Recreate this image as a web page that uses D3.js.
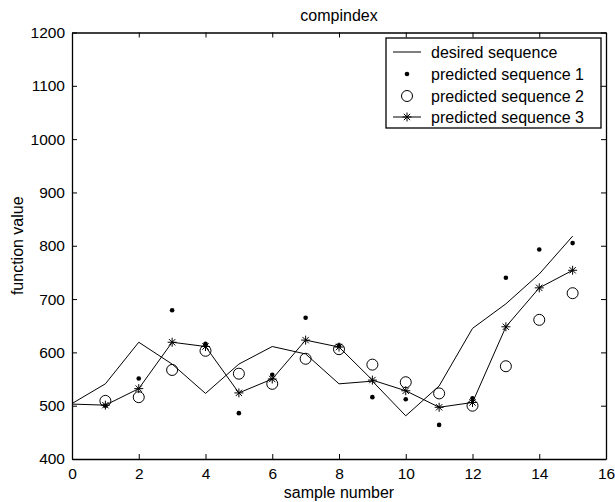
<!DOCTYPE html>
<html>
<head>
<meta charset="utf-8">
<script src="https://cdn.jsdelivr.net/npm/d3@7"></script>
<style>
  body { margin: 0; background: #fff; }
  svg { display: block; }
  text { font-family: "Liberation Sans", Arial, sans-serif; fill: #000; }
</style>
</head>
<body>
<div class="chart"></div>
<script>
// values
var xDesired = [0, 1, 2, 3, 4, 5, 6, 7, 8, 9, 10, 11, 12, 13, 14, 15];
var desired = [504, 541, 619, 578, 523, 578, 611, 597, 541, 546, 481, 537, 645, 691, 747, 818];

var xPred = [1, 2, 3, 4, 5, 6, 7, 8, 9, 10, 11, 12, 13, 14, 15];
var pred1 = [500, 551, 679, 616, 486, 558, 665, 612, 516, 512, 464, 514, 740, 793, 805];
var pred2 = [509, 516, 567, 603, 560, 541, 588, 606, 577, 544, 523, 500, 574, 661, 711];
// sequence 3 line starts at x = 0
var pred3 = [503, 501, 532, 619, 611, 524, 550, 623, 610, 548, 528, 497, 506, 648, 721, 754];

var xTicks = [0, 2, 4, 6, 8, 10, 12, 14, 16];
var yTicks = [400, 500, 600, 700, 800, 900, 1000, 1100, 1200];
var legendLabels = ["desired sequence", "predicted sequence 1", "predicted sequence 2", "predicted sequence 3"];

var svgWidth = 615, svgHeight = 502;
var margin = { top: 32.5, right: 9, bottom: 43, left: 72 };
var chartWidth = svgWidth - margin.left - margin.right;
var chartHeight = svgHeight - margin.top - margin.bottom;

var svg = d3.select(".chart").append("svg")
  .attr("width", svgWidth)
  .attr("height", svgHeight);

var chartGroup = svg.append("g")
  .attr("transform", `translate(${margin.left}, ${margin.top})`);

var xScale = d3.scaleLinear().domain([0, 16]).range([0, chartWidth]);
var yScale = d3.scaleLinear().domain([400, 1200]).range([chartHeight, 0]);

var fs = "16px";
var tickFs = "15.5px";

// axes with inward ticks on all four sides (matlab box)
var xAxis = d3.axisBottom(xScale).tickValues(xTicks).tickFormat(d3.format("d"))
  .tickSizeInner(-5).tickSizeOuter(0).tickPadding(9);
var yAxis = d3.axisLeft(yScale).tickValues(yTicks).tickFormat(d3.format("d"))
  .tickSizeInner(-5).tickSizeOuter(0).tickPadding(7);

var gx = chartGroup.append("g")
  .attr("transform", `translate(0, ${chartHeight})`)
  .call(xAxis);
var gy = chartGroup.append("g").call(yAxis);

chartGroup.append("g")
  .call(d3.axisTop(xScale).tickValues(xTicks).tickSizeInner(-5).tickSizeOuter(0).tickFormat(""));
chartGroup.append("g")
  .attr("transform", `translate(${chartWidth}, 0)`)
  .call(d3.axisRight(yScale).tickValues(yTicks).tickSizeInner(-5).tickSizeOuter(0).tickFormat(""));

chartGroup.selectAll(".domain").attr("stroke", "#000").attr("stroke-width", 1.3);
chartGroup.selectAll(".tick line").attr("stroke", "#000");
chartGroup.selectAll(".tick text")
  .style("font-size", tickFs)
  .style("font-family", '"Liberation Sans", Arial, sans-serif');

// desired sequence line
var line = d3.line()
  .x(d => xScale(d[0]))
  .y(d => yScale(d[1]));

chartGroup.append("path")
  .datum(xDesired.map((x, i) => [x, desired[i]]))
  .attr("d", line)
  .attr("fill", "none")
  .attr("stroke", "#000")
  .attr("stroke-width", 1);

// predicted sequence 1 : dots
chartGroup.append("g").selectAll("circle")
  .data(xPred.map((x, i) => [x, pred1[i]]))
  .enter()
  .append("circle")
  .attr("cx", d => xScale(d[0]))
  .attr("cy", d => yScale(d[1]))
  .attr("r", 2.3)
  .attr("fill", "#000");

// predicted sequence 2 : open circles
chartGroup.append("g").selectAll("circle")
  .data(xPred.map((x, i) => [x, pred2[i]]))
  .enter()
  .append("circle")
  .attr("cx", d => xScale(d[0]))
  .attr("cy", d => yScale(d[1]))
  .attr("r", 5.5)
  .attr("fill", "none")
  .attr("stroke", "#000")
  .attr("stroke-width", 1);

// predicted sequence 3 : line with stars
var pts3 = xDesired.map((x, i) => [x, pred3[i]]);
chartGroup.append("path")
  .datum(pts3)
  .attr("d", line)
  .attr("fill", "none")
  .attr("stroke", "#000")
  .attr("stroke-width", 1);

function starPath(s) {
  var d = s * 0.7071;
  return `M${-s},0L${s},0M0,${-s}L0,${s}M${-d},${-d}L${d},${d}M${-d},${d}L${d},${-d}`;
}

chartGroup.append("g").selectAll("path")
  .data(pts3.slice(1))
  .enter()
  .append("path")
  .attr("transform", d => `translate(${xScale(d[0])}, ${yScale(d[1])})`)
  .attr("d", starPath(4.5))
  .attr("stroke", "#000")
  .attr("stroke-width", 1)
  .attr("fill", "none");

// title and axis labels
svg.append("text")
  .attr("x", margin.left + chartWidth / 2)
  .attr("y", 21)
  .attr("text-anchor", "middle")
  .style("font-size", fs)
  .text("compindex");

svg.append("text")
  .attr("x", margin.left + chartWidth / 2)
  .attr("y", 498)
  .attr("text-anchor", "middle")
  .style("font-size", fs)
  .text("sample number");

svg.append("text")
  .attr("transform", `translate(23, ${margin.top + chartHeight / 2}) rotate(-90)`)
  .attr("text-anchor", "middle")
  .style("font-size", fs)
  .text("function value");

// legend
var legend = svg.append("g").attr("transform", "translate(386, 38)");
legend.append("rect")
  .attr("width", 215)
  .attr("height", 90)
  .attr("fill", "#fff")
  .attr("stroke", "#000")
  .attr("stroke-width", 1.3);

var rowY = [14, 36, 58, 79];
legendLabels.forEach(function (lab, i) {
  var row = legend.append("g").attr("transform", `translate(0, ${rowY[i]})`);
  if (i === 0 || i === 3) {
    row.append("line").attr("x1", 7).attr("x2", 35).attr("y1", 0).attr("y2", 0)
      .attr("stroke", "#000").attr("stroke-width", 1);
  }
  if (i === 1) {
    row.append("circle").attr("cx", 21).attr("cy", 0).attr("r", 2.3).attr("fill", "#000");
  }
  if (i === 2) {
    row.append("circle").attr("cx", 21).attr("cy", 0).attr("r", 5.5)
      .attr("fill", "none").attr("stroke", "#000");
  }
  if (i === 3) {
    row.append("path").attr("transform", "translate(21, 0)").attr("d", starPath(4.5))
      .attr("stroke", "#000").attr("fill", "none");
  }
  row.append("text")
    .attr("x", 45)
    .attr("y", 5.5)
    .style("font-size", fs)
    .text(lab);
});
</script>
</body>
</html>
